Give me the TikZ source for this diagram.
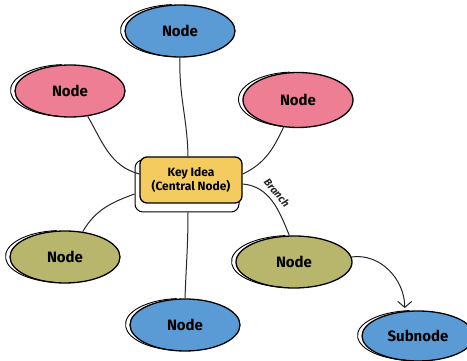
\documentclass[tikz,border=0pt]{standalone}
\usepackage{fontspec}
\setmainfont{Fira Sans}
\usetikzlibrary{shapes.geometric,arrows.meta}
\definecolor{blobblue}{HTML}{5B9BD5}
\definecolor{blobpink}{HTML}{EE7E93}
\definecolor{blobolive}{HTML}{B8B66C}
\definecolor{keyyellow}{HTML}{F4CB5E}
% thin second rim on the left side of a blob: node, x radius, y radius
\newcommand\sketchrim[3]{%
  \draw[rim] ([xshift=-3.5pt,yshift=0.5pt]#1.center) ++(95:#2pt and #3pt)
    arc[start angle=95,end angle=262,x radius=#2pt,y radius=#3pt];}
\begin{document}
\begin{tikzpicture}[x=1pt,y=1pt,
  blob/.style={ellipse, draw=black, line width=1.3pt, inner sep=0pt,
    minimum width=110pt, minimum height=52pt,
    font=\fontsize{15}{17}\selectfont\bfseries},
  rim/.style={line width=0.9pt, black},
  link/.style={line width=1pt, black!85},
  keybox/.style={rectangle, rounded corners=7pt, draw=black, line width=1.3pt,
    fill=keyyellow, minimum width=102pt, minimum height=46pt, align=center,
    font=\fontsize{12}{14}\selectfont\bfseries},
  keyrim/.style={rectangle, rounded corners=8pt, draw=black, line width=1pt,
    fill=white, minimum width=104pt, minimum height=52pt}]
\path[fill=white] (0,0) rectangle (467,361);
\useasboundingbox (0,0) rectangle (467,361);

% central idea
\node[keyrim] (keyback) at (187,175) {};
\node[keybox] (key) at (191,181) {Key Idea\\(Central Node)};

% surrounding blobs
\node[blob, fill=blobblue] (top) at (180,330) {Node};
\node[blob, fill=blobpink] (pinkl) at (70,270) {Node};
\node[blob, fill=blobpink, minimum height=55pt] (pinkr) at (298,261) {Node};
\node[blob, fill=blobolive] (olivel) at (65,104) {Node};
\node[blob, fill=blobblue] (bottom) at (185,36) {Node};
\node[blob, fill=blobolive, minimum width=116pt] (oliver) at (294,99) {Node};
\node[blob, fill=blobblue, minimum width=112pt, minimum height=50pt] (sub) at (418,25) {Subnode};

\sketchrim{top}{56}{26}
\sketchrim{pinkl}{56}{26}
\sketchrim{pinkr}{56}{27.5}
\sketchrim{olivel}{56}{26}
\sketchrim{bottom}{56}{26}
\sketchrim{oliver}{59}{26}
\sketchrim{sub}{57}{25}

% connectors
\draw[link] (top.south) to[out=-92, in=91] ([xshift=-3pt]key.north);
\draw[link] (pinkl.-55) to[out=-60, in=165] ([yshift=6pt]key.west);
\draw[link] (pinkr.-118) to[out=-115, in=25] ([yshift=6pt]key.east);
\draw[link] (olivel.55) to[out=60, in=200] ([yshift=-8pt]keyback.west);
\draw[link] ([xshift=1pt]keyback.south) to[out=-90, in=88] (bottom.north);
\draw[link] ([yshift=-4pt]key.east) to[out=-5, in=112]
  node[pos=0.45, above=1pt, sloped, font=\fontsize{10.5}{12}\selectfont\bfseries\itshape] (branchlbl) {Branch}
  (oliver.100);
\draw[link, -{Straight Barb[length=6pt, width=14pt, line width=1pt]}]
  (oliver.5) to[out=8, in=90] ([yshift=3pt]sub.118);
\end{tikzpicture}
\end{document}
